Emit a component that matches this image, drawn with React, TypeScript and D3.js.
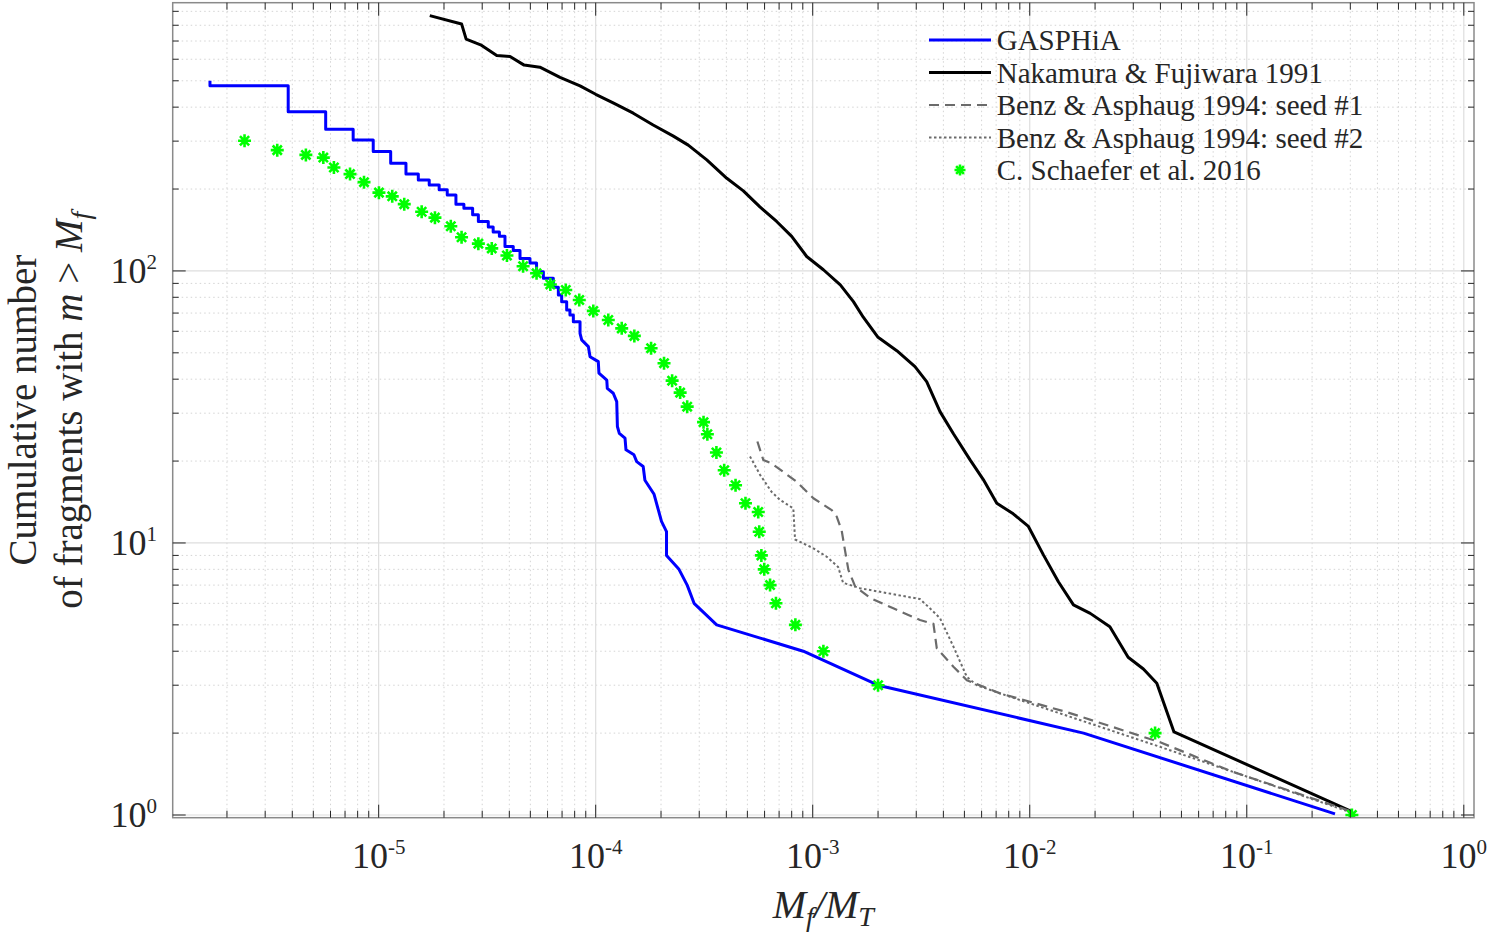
import * as d3 from 'd3';

// GASPHiA: cumulative fragment count (stairs)
const gasphia: [number, number][] = [
  [1.67e-6, 500], [1.67e-6, 479], [3.83e-6, 479], [3.83e-6, 385], [5.7e-6, 385], [5.7e-6, 332],
  [7.63e-6, 332], [7.63e-6, 303], [9.44e-6, 303], [9.44e-6, 275], [1.136e-5, 275], [1.136e-5, 249],
  [1.336e-5, 249], [1.336e-5, 227], [1.523e-5, 227], [1.523e-5, 216], [1.71e-5, 216], [1.71e-5, 207],
  [1.9e-5, 207], [1.9e-5, 199], [2.07e-5, 199], [2.07e-5, 190], [2.27e-5, 190], [2.27e-5, 176],
  [2.47e-5, 176], [2.47e-5, 170], [2.71e-5, 170], [2.71e-5, 161], [2.88e-5, 161], [2.88e-5, 152],
  [3.2e-5, 152], [3.2e-5, 145], [3.37e-5, 145], [3.37e-5, 139], [3.6e-5, 139], [3.6e-5, 134],
  [3.82e-5, 134], [3.82e-5, 123], [4.17e-5, 123], [4.17e-5, 119], [4.48e-5, 119], [4.48e-5, 111],
  [4.98e-5, 111], [4.98e-5, 107], [5.34e-5, 107], [5.34e-5, 99.4], [5.74e-5, 99.4], [5.74e-5, 94],
  [6.38e-5, 94], [6.38e-5, 87.1], [6.73e-5, 87.1], [6.73e-5, 81.6], [6.97e-5, 81.6], [6.97e-5, 77.1],
  [7.35e-5, 77.1], [7.35e-5, 71.9], [7.61e-5, 71.9], [7.61e-5, 68.9], [7.89e-5, 68.9], [7.89e-5, 65.1],
  [8.47e-5, 65.1], [8.47e-5, 59], [8.62e-5, 55.8], [9.25e-5, 52.7], [9.42e-5, 48.4], [1.028e-4, 46.4],
  [1.035e-4, 42.1], [1.125e-4, 39.7], [1.131e-4, 37], [1.205e-4, 35.5], [1.25e-4, 33.1], [1.259e-4, 26.8],
  [1.285e-4, 25.3], [1.365e-4, 24.3], [1.379e-4, 22], [1.5e-4, 21.1], [1.545e-4, 19.9], [1.655e-4, 19.1],
  [1.686e-4, 17], [1.858e-4, 15.1], [2.01e-4, 12], [2.12e-4, 11], [2.12e-4, 9], [2.42e-4, 8],
  [2.64e-4, 7], [2.84e-4, 6], [3.61e-4, 5], [9.05e-4, 4], [2.0e-3, 3], [1.77e-2, 2], [0.255, 1.01],
];

// Nakamura & Fujiwara 1991
const nakamura: [number, number][] = [
  [1.72e-5, 868], [2.41e-5, 809], [2.53e-5, 711], [2.95e-5, 678], [3.5e-5, 619], [4.03e-5, 614],
  [4.68e-5, 571], [5.53e-5, 561], [6.85e-5, 515], [8.47e-5, 479], [1.0e-4, 446], [1.21e-4, 414],
  [1.49e-4, 380], [1.84e-4, 344], [2.28e-4, 313], [2.67e-4, 290], [3.25e-4, 256], [4.02e-4, 219],
  [4.79e-4, 197], [5.71e-4, 172], [6.82e-4, 152], [8.0e-4, 134], [9.38e-4, 113], [1.12e-3, 101],
  [1.34e-3, 88.9], [1.54e-3, 77.1], [1.71e-3, 67.6], [2.0e-3, 57], [2.44e-3, 50.9], [2.96e-3, 44.5],
  [3.35e-3, 39.2], [3.86e-3, 30.4], [4.45e-3, 25.2], [5.31e-3, 20.2], [6.11e-3, 17.1], [7.05e-3, 14],
  [8.39e-3, 12.8], [9.86e-3, 11.5], [1.156e-2, 9.04], [1.355e-2, 7.2], [1.59e-2, 5.92], [1.9e-2, 5.51],
  [2.34e-2, 4.92], [2.84e-2, 3.8], [3.34e-2, 3.44], [3.85e-2, 3.05], [4.62e-2, 2.02], [0.305, 1.03],
];

// Benz & Asphaug 1994, seed #1
const benzSeed1: [number, number][] = [
  [5.56e-4, 23.6], [5.92e-4, 20.2], [6.47e-4, 19.6], [8.43e-4, 16.8], [1.007e-3, 14.6], [1.224e-3, 13.2],
  [1.29e-3, 12.5], [1.36e-3, 11.1], [1.41e-3, 9.35], [1.46e-3, 7.96], [1.57e-3, 6.91], [1.84e-3, 6.28],
  [2.35e-3, 5.75], [3.12e-3, 5.21], [3.6e-3, 5.04], [3.73e-3, 4.1], [4.45e-3, 3.51], [5.13e-3, 3.13],
  [7.3e-3, 2.8], [1.48e-2, 2.39], [3.99e-2, 1.85], [8.65e-2, 1.44], [0.305, 1.03],
];

// Benz & Asphaug 1994, seed #2
const benzSeed2: [number, number][] = [
  [5.14e-4, 20.8], [5.72e-4, 17.8], [6.47e-4, 15.4], [7.07e-4, 14.4], [8.14e-4, 13.4], [8.29e-4, 10.3],
  [1.007e-3, 9.56], [1.16e-3, 8.9], [1.31e-3, 8.16], [1.38e-3, 7.14], [1.65e-3, 6.82], [3.12e-3, 6.22],
  [3.47e-3, 5.75], [3.86e-3, 5.29], [4.45e-3, 4.16], [5.13e-3, 3.22], [5.7e-3, 3.0], [7.3e-3, 2.8],
  [3.99e-2, 1.78], [0.305, 1.02],
];

// C. Schaefer et al. 2016
const schaefer: [number, number][] = [
  [2.41e-6, 301], [3.41e-6, 278], [4.62e-6, 267], [5.56e-6, 261], [6.22e-6, 240], [7.38e-6, 227],
  [8.56e-6, 212], [1.003e-5, 194], [1.155e-5, 188], [1.312e-5, 176], [1.578e-5, 165], [1.817e-5, 157],
  [2.15e-5, 146], [2.41e-5, 133], [2.88e-5, 126], [3.32e-5, 121], [3.9e-5, 114], [4.63e-5, 104],
  [5.34e-5, 98], [6.18e-5, 89.2], [7.28e-5, 85.1], [8.4e-5, 78.2], [9.75e-5, 71.3], [1.143e-4, 66],
  [1.318e-4, 61.5], [1.507e-4, 57.7], [1.8e-4, 52], [2.065e-4, 45.8], [2.25e-4, 39.5], [2.45e-4, 35.7],
  [2.64e-4, 31.7], [3.14e-4, 27.8], [3.27e-4, 25.1], [3.6e-4, 21.5], [3.91e-4, 18.5], [4.41e-4, 16.3],
  [4.9e-4, 14], [5.61e-4, 13], [5.67e-4, 11], [5.8e-4, 9], [5.98e-4, 8], [6.36e-4, 7],
  [6.77e-4, 6], [8.32e-4, 5], [1.12e-3, 4], [2.0e-3, 3], [3.78e-2, 2], [0.305, 1],
];

const xTickValues = [1e-5, 1e-4, 1e-3, 1e-2, 1e-1, 1];
const xTickExponents = ['-5', '-4', '-3', '-2', '-1', '0'];
const yTickValues = [1, 10, 100];
const yTickExponents = ['0', '1', '2'];

const legendLabels = [
  'GASPHiA',
  'Nakamura & Fujiwara 1991',
  'Benz & Asphaug 1994: seed #1',
  'Benz & Asphaug 1994: seed #2',
  'C. Schaefer et al. 2016',
];

const FONT = '"Liberation Serif", "Times New Roman", serif';
const GRAY = '#6b6b6b';

export default function App() {
  const width = 1490;
  const height = 936;
  const plot = { left: 172.7, right: 1474, top: 2.7, bottom: 817.7 };

  const x = d3.scaleLog().domain([Math.pow(10, -5.949), Math.pow(10, 0.047)]).range([plot.left, plot.right]);
  const y = d3.scaleLog().domain([Math.pow(10, -0.0099), Math.pow(10, 2.986)]).range([plot.bottom, plot.top]);

  const line = d3.line<[number, number]>().x(d => x(d[0])).y(d => y(d[1]));

  // minor tick values (2..9 per decade) inside the domain
  const xMinor: number[] = [];
  for (let e = -6; e <= 0; e++) {
    for (let k = 2; k <= 9; k++) {
      const v = k * Math.pow(10, e);
      if (v > x.domain()[0] && v < x.domain()[1]) xMinor.push(v);
    }
  }
  const yMinor: number[] = [];
  for (let e = 0; e <= 2; e++) {
    for (let k = 2; k <= 9; k++) {
      const v = k * Math.pow(10, e);
      if (v < y.domain()[1]) yMinor.push(v);
    }
  }

  // MATLAB-style '*' marker: 4 strokes through the centre
  const asterisk = (cx: number, cy: number, r: number) => {
    const d = r * Math.SQRT1_2;
    return `M${cx - r},${cy}L${cx + r},${cy}M${cx},${cy - r}L${cx},${cy + r}` +
      `M${cx - d},${cy - d}L${cx + d},${cy + d}M${cx - d},${cy + d}L${cx + d},${cy - d}`;
  };

  const legendX0 = 929;
  const legendX1 = 991;
  const legendRowY = (i: number) => 40 + i * 32.5;

  return (
    <div style={{ position: 'absolute', left: 0, top: 0 }}>
      <svg width={width} height={height} style={{ display: 'block', background: '#fff' }} fontFamily={FONT}>
        <defs>
          <clipPath id="plot-clip">
            <rect x={plot.left} y={plot.top} width={plot.right - plot.left} height={plot.bottom - plot.top} />
          </clipPath>
        </defs>

        {/* Grid */}
        <g>
          {xMinor.map(v => (
            <line key={`xm${v}`} x1={x(v)} x2={x(v)} y1={plot.top} y2={plot.bottom}
              stroke="#d4d4d4" strokeWidth={1} strokeDasharray="1.5,3" />
          ))}
          {yMinor.map(v => (
            <line key={`ym${v}`} x1={plot.left} x2={plot.right} y1={y(v)} y2={y(v)}
              stroke="#d4d4d4" strokeWidth={1} strokeDasharray="1.5,3" />
          ))}
          {xTickValues.map(v => (
            <line key={`xg${v}`} x1={x(v)} x2={x(v)} y1={plot.top} y2={plot.bottom} stroke="#dedede" strokeWidth={1.2} />
          ))}
          {yTickValues.map(v => (
            <line key={`yg${v}`} x1={plot.left} x2={plot.right} y1={y(v)} y2={y(v)} stroke="#dedede" strokeWidth={1.2} />
          ))}
        </g>

        {/* Series */}
        <g clipPath="url(#plot-clip)" fill="none" strokeLinejoin="round">
          <path d={line(gasphia) ?? ''} stroke="#0000ff" strokeWidth={3} />
          <path d={line(nakamura) ?? ''} stroke="#000" strokeWidth={3} />
          <path d={line(benzSeed1) ?? ''} stroke={GRAY} strokeWidth={2.2} strokeDasharray="10,6" />
          <path d={line(benzSeed2) ?? ''} stroke={GRAY} strokeWidth={2} strokeDasharray="2.5,2.5" />
          {schaefer.map((d, i) => (
            <path key={i} d={asterisk(x(d[0]), y(d[1]), 6.5)} stroke="#00ff00" strokeWidth={2.6} strokeLinecap="butt" />
          ))}
        </g>

        {/* Box */}
        <rect x={plot.left} y={plot.top} width={plot.right - plot.left} height={plot.bottom - plot.top}
          fill="none" stroke="#8a8a8a" strokeWidth={1.5} />

        {/* Ticks */}
        <g stroke="#262626" strokeWidth={1}>
          {xTickValues.map(v => (
            <g key={`xt${v}`}>
              <line x1={x(v)} x2={x(v)} y1={plot.bottom} y2={plot.bottom - 13} />
              <line x1={x(v)} x2={x(v)} y1={plot.top} y2={plot.top + 13} />
            </g>
          ))}
          {xMinor.map(v => (
            <g key={`xmt${v}`}>
              <line x1={x(v)} x2={x(v)} y1={plot.bottom} y2={plot.bottom - 7} />
              <line x1={x(v)} x2={x(v)} y1={plot.top} y2={plot.top + 7} />
            </g>
          ))}
          {yTickValues.map(v => (
            <g key={`yt${v}`}>
              <line x1={plot.left} x2={plot.left + 13} y1={y(v)} y2={y(v)} />
              <line x1={plot.right} x2={plot.right - 13} y1={y(v)} y2={y(v)} />
            </g>
          ))}
          {yMinor.map(v => (
            <g key={`ymt${v}`}>
              <line x1={plot.left} x2={plot.left + 6} y1={y(v)} y2={y(v)} />
              <line x1={plot.right} x2={plot.right - 6} y1={y(v)} y2={y(v)} />
            </g>
          ))}
        </g>

        {/* Tick labels */}
        <g fill="#262626">
          {xTickValues.map((v, i) => (
            <text key={`xl${v}`} x={x(v)} y={868} textAnchor="middle" fontSize={36}>
              10<tspan dy={-14} fontSize={21}>{xTickExponents[i]}</tspan>
            </text>
          ))}
          {yTickValues.map((v, i) => (
            <text key={`yl${v}`} x={157} y={y(v) + 12} textAnchor="end" fontSize={36}>
              10<tspan dy={-14} fontSize={21}>{yTickExponents[i]}</tspan>
            </text>
          ))}
        </g>

        {/* Axis labels */}
        <text x={(plot.left + plot.right) / 2} y={918} textAnchor="middle" fontSize={40} fontStyle="italic" fill="#262626">
          M<tspan dy={8} fontSize={28}>f</tspan><tspan dy={-8} fontSize={40}>/M</tspan><tspan dy={8} fontSize={28}>T</tspan>
        </text>
        <text transform={`translate(36,${(plot.top + plot.bottom) / 2}) rotate(-90)`} textAnchor="middle" fontSize={39} fill="#262626">
          Cumulative number
        </text>
        <text transform={`translate(82,${(plot.top + plot.bottom) / 2}) rotate(-90)`} textAnchor="middle" fontSize={39} fill="#262626">
          of fragments with <tspan fontStyle="italic">m</tspan> &gt; <tspan fontStyle="italic">M</tspan>
          <tspan fontStyle="italic" fontSize={28} dy={8}>f</tspan>
        </text>

        {/* Legend */}
        <g>
          <line x1={legendX0} x2={legendX1} y1={legendRowY(0)} y2={legendRowY(0)} stroke="#0000ff" strokeWidth={3} />
          <line x1={legendX0} x2={legendX1} y1={legendRowY(1)} y2={legendRowY(1)} stroke="#000" strokeWidth={3} />
          <line x1={legendX0} x2={legendX1} y1={legendRowY(2)} y2={legendRowY(2)} stroke={GRAY} strokeWidth={2.2} strokeDasharray="10,6" />
          <line x1={legendX0} x2={legendX1} y1={legendRowY(3)} y2={legendRowY(3)} stroke={GRAY} strokeWidth={2} strokeDasharray="2.5,2.5" />
          <path d={asterisk((legendX0 + legendX1) / 2, legendRowY(4), 5.5)} stroke="#00ff00" strokeWidth={2.6} fill="none" />
          {legendLabels.map((label, i) => (
            <text key={label} x={996.7} y={legendRowY(i) + 10} fontSize={29} fill="#262626">{label}</text>
          ))}
        </g>
      </svg>
    </div>
  );
}
